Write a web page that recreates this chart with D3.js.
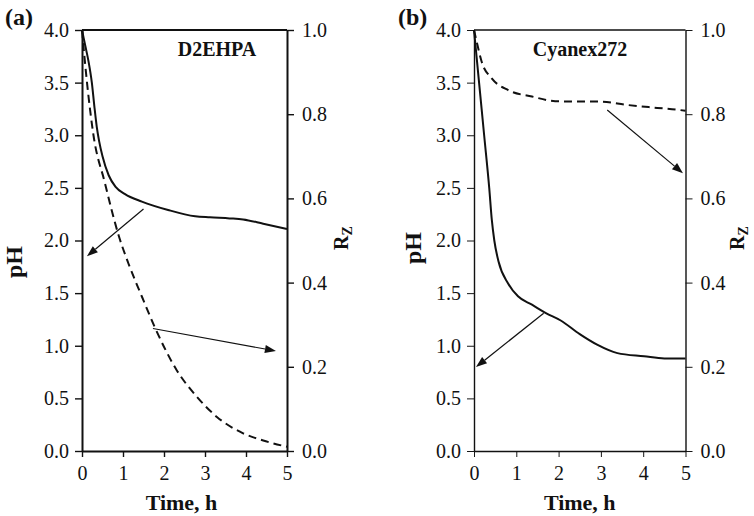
<!DOCTYPE html>
<html>
<head>
<meta charset="utf-8">
<script src="https://cdn.jsdelivr.net/npm/d3@7"></script>
<style>
  html, body { margin: 0; padding: 0; background: #fff; }
  svg { display: block; }
  text { font-family: "Liberation Serif", "Times New Roman", serif; fill: #111; }
</style>
</head>
<body>
<svg id="chart" width="754" height="516"></svg>
<script>
// ---------- data ----------
const timeTicks = [0, 1, 2, 3, 4, 5];
const phTicks = [0, 0.5, 1, 1.5, 2, 2.5, 3, 3.5, 4];
const rzTicks = [0, 0.2, 0.4, 0.6, 0.8, 1.0];

// Panel (a) D2EHPA
const aPhTime = [0, 0.08, 0.16, 0.24, 0.3, 0.36, 0.42, 0.5, 0.65, 0.82, 1.05, 1.46, 2.1, 2.76, 3.12, 3.6, 3.93, 4.42, 5];
const aPhValue = [4.0, 3.85, 3.7, 3.5, 3.28, 3.08, 2.94, 2.8, 2.62, 2.51, 2.44, 2.37, 2.29, 2.23, 2.22, 2.21, 2.20, 2.16, 2.11];
const aRzTime = [0, 0.12, 0.28, 0.55, 0.9, 1.13, 1.46, 1.78, 2.31, 2.8, 3.29, 3.93, 4.42, 5];
const aRzValue = [1.0, 0.877, 0.75, 0.64, 0.51, 0.446, 0.367, 0.293, 0.192, 0.129, 0.081, 0.042, 0.025, 0.01];

// Panel (b) Cyanex272
const bPhTime = [0, 0.12, 0.24, 0.36, 0.42, 0.48, 0.58, 0.81, 1.04, 1.37, 1.7, 2.05, 2.5, 2.91, 3.39, 4.02, 4.5, 5];
const bPhValue = [4.0, 3.5, 3.0, 2.5, 2.2, 2.0, 1.8, 1.59, 1.47, 1.39, 1.31, 1.24, 1.11, 1.01, 0.93, 0.90, 0.88, 0.88];
const bRzTime = [0, 0.064, 0.18, 0.42, 0.81, 1.37, 1.92, 2.55, 2.99, 3.62, 4.33, 4.86, 5];
const bRzValue = [1.0, 0.972, 0.925, 0.885, 0.857, 0.842, 0.831, 0.830, 0.830, 0.822, 0.815, 0.81, 0.808];

// Arrows (time, pH-units) : [fromT, fromPH, toT, toPH]
const aArrows = [[1.50, 2.30, 0.12, 1.85], [1.73, 1.164, 4.73, 0.95]];
const bArrows = [[1.647, 1.308, 0.047, 0.798], [3.15, 3.24, 4.94, 2.64]];

const panelLabels = ["(a)", "(b)"];
const extractants = ["D2EHPA", "Cyanex272"];

// ---------- drawing ----------
const svg = d3.select("#chart");
const yTop = 30, yBot = 451;

function zip(a, b) { return a.map((d, i) => [d, b[i]]); }

function drawPanel(p) {
  const g = svg.append("g");
  const x = d3.scaleLinear().domain([0, 5]).range([p.x0, p.x1]);
  const yPh = d3.scaleLinear().domain([0, 4]).range([yBot, yTop]);
  const yRz = d3.scaleLinear().domain([0, 1]).range([yBot, yTop]);

  const left = g.append("g").attr("transform", `translate(${p.x0},0)`)
    .call(d3.axisLeft(yPh).tickValues(phTicks).tickFormat(d3.format(".1f")).tickSize(7).tickSizeOuter(0).tickPadding(6));
  const right = g.append("g").attr("transform", `translate(${p.x1},0)`)
    .call(d3.axisRight(yRz).tickValues(rzTicks).tickFormat(d3.format(".1f")).tickSize(7).tickSizeOuter(0).tickPadding(p.rPad));
  const bottom = g.append("g").attr("transform", `translate(0,${yBot})`)
    .call(d3.axisBottom(x).tickValues(timeTicks).tickFormat(d3.format("d")).tickSize(6).tickSizeOuter(0).tickPadding(9));
  [left, right, bottom].forEach(ax => {
    ax.select(".domain").attr("stroke", "#111").attr("stroke-width", p.axisW);
    ax.selectAll(".tick line").attr("stroke", "#111").attr("stroke-width", p.axisW * 0.7);
    ax.selectAll("text").attr("font-size", 20).attr("fill", "#111")
      .style("font-family", '"Liberation Serif", "Times New Roman", serif');
  });
  g.append("line").attr("x1", p.x0).attr("x2", p.x1).attr("y1", yTop).attr("y2", yTop)
    .attr("stroke", "#111").attr("stroke-width", p.axisW);

  const linePh = d3.line().x(d => x(d[0])).y(d => yPh(d[1])).curve(d3.curveMonotoneX);
  const lineRz = d3.line().x(d => x(d[0])).y(d => yRz(d[1])).curve(d3.curveMonotoneX);
  g.append("path").attr("d", linePh(zip(p.phT, p.phV)))
    .attr("fill", "none").attr("stroke", "#111").attr("stroke-width", 2);
  g.append("path").attr("d", lineRz(zip(p.rzT, p.rzV)))
    .attr("fill", "none").attr("stroke", "#111").attr("stroke-width", 2)
    .attr("stroke-dasharray", "8,5");

  p.arrows.forEach(a => {
    const x1 = x(a[0]), y1 = yPh(a[1]), x2 = x(a[2]), y2 = yPh(a[3]);
    const ang = Math.atan2(y2 - y1, x2 - x1);
    const L = 11, W = 4;
    const bx = x2 - L * Math.cos(ang), by = y2 - L * Math.sin(ang);
    g.append("line").attr("x1", x1).attr("y1", y1).attr("x2", bx).attr("y2", by)
      .attr("stroke", "#111").attr("stroke-width", 1.2);
    const pts = [[x2, y2],
      [bx + W * Math.sin(ang), by - W * Math.cos(ang)],
      [bx - W * Math.sin(ang), by + W * Math.cos(ang)]];
    g.append("polygon").attr("points", pts.map(q => q.join(",")).join(" ")).attr("fill", "#111");
  });

  g.append("text").attr("x", p.labX).attr("y", 25).attr("font-size", 24).attr("font-weight", "bold")
    .text(p.label);
  g.append("text").attr("x", p.nameX).attr("y", 56).attr("text-anchor", "middle")
    .attr("font-size", 20).attr("font-weight", "bold").text(p.name);
  g.append("text").attr("x", (p.x0 + p.x1) / 2 - p.tShift).attr("y", 510).attr("text-anchor", "middle")
    .attr("font-size", 22).attr("font-weight", "bold").text("Time, h");
  g.append("text").attr("transform", `translate(${p.phX},${p.phY}) rotate(-90)`)
    .attr("text-anchor", "middle").attr("font-size", 24).attr("font-weight", "bold").text("pH");
  const rz = g.append("text").attr("transform", `translate(${p.rzX},${p.rzY}) rotate(-90)`)
    .attr("text-anchor", "middle").attr("font-size", 20).attr("font-weight", "bold");
  rz.append("tspan").text("R");
  rz.append("tspan").attr("font-size", 14).attr("dy", 4).text("Z");
}

drawPanel({
  x0: 82, x1: 287, axisW: 2, rPad: 8,
  phT: aPhTime, phV: aPhValue, rzT: aRzTime, rzV: aRzValue, arrows: aArrows,
  label: panelLabels[0], labX: 5, name: extractants[0], nameX: 217, tShift: 3,
  phX: 22, phY: 262, rzX: 348, rzY: 238
});
drawPanel({
  x0: 474, x1: 685.5, axisW: 1.4, rPad: 8,
  phT: bPhTime, phV: bPhValue, rzT: bRzTime, rzV: bRzValue, arrows: bArrows,
  label: panelLabels[1], labX: 398, name: extractants[1], nameX: 580, tShift: 0,
  phX: 421, phY: 248, rzX: 744, rzY: 238
});
</script>
</body>
</html>
